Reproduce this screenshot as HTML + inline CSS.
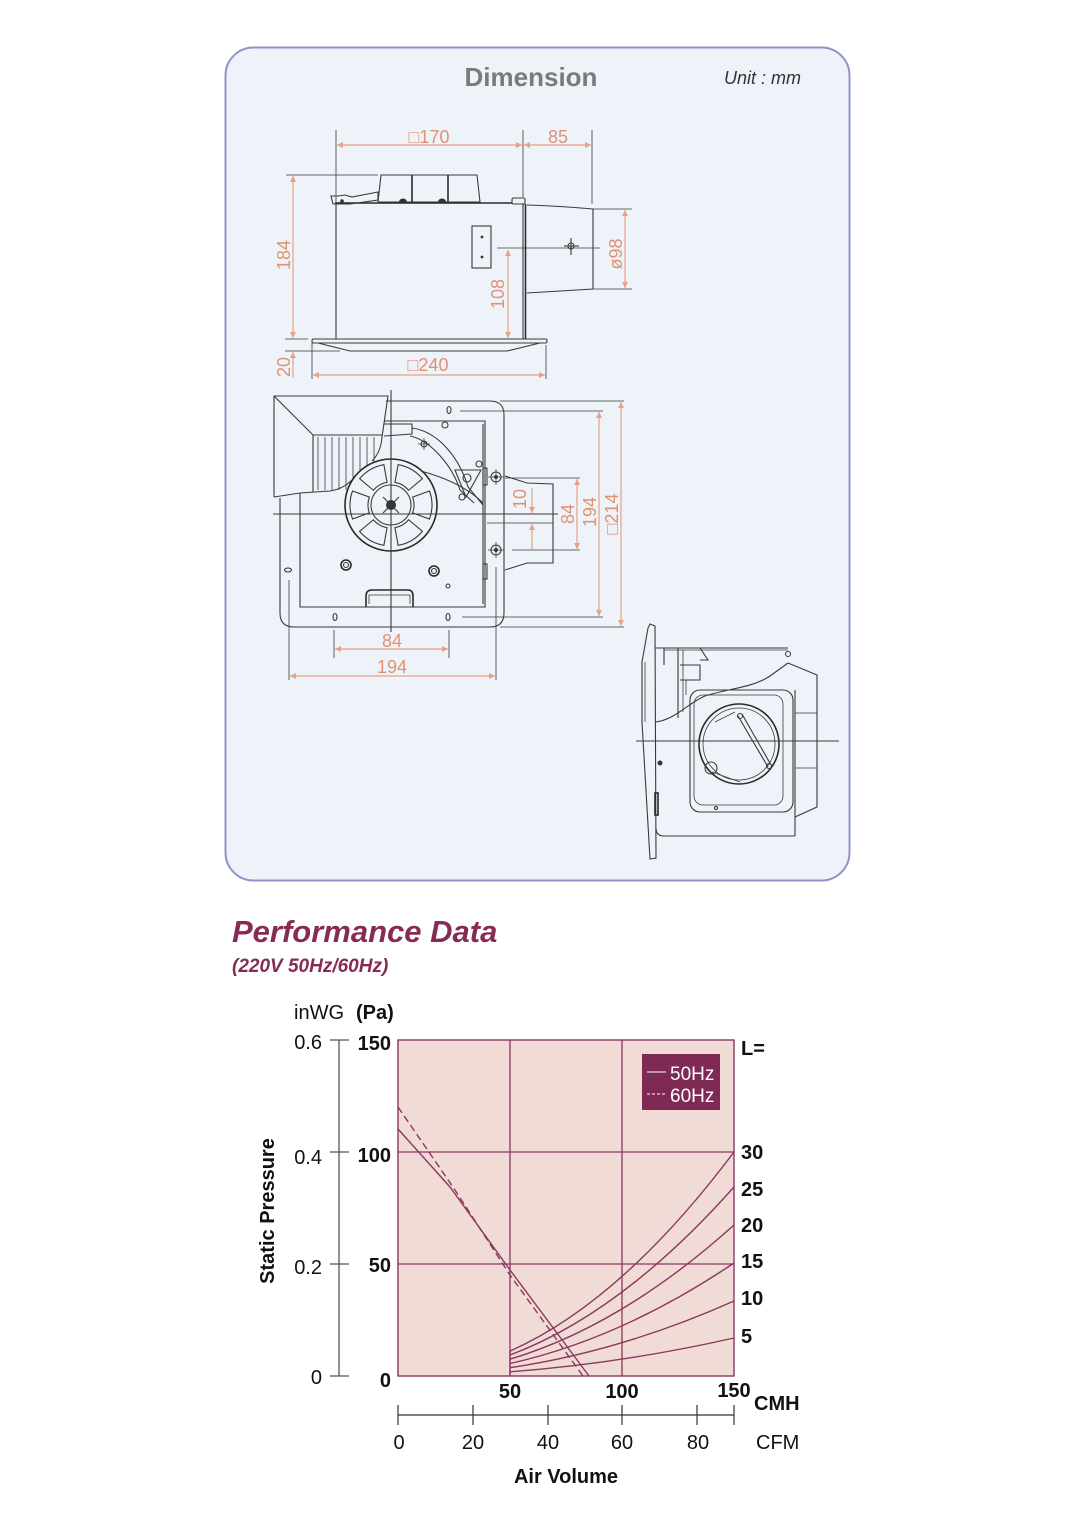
<!DOCTYPE html>
<html>
<head>
<meta charset="utf-8">
<style>
  html,body{margin:0;padding:0;background:#ffffff;}
  body{width:1080px;height:1528px;overflow:hidden;}
  svg{display:block;}
  .d{fill:none;stroke:#3a3a3a;stroke-width:1.1;}
  .t{fill:none;stroke:#3a3a3a;stroke-width:0.8;}
  .k{fill:none;stroke:#2a2a2a;stroke-width:1.6;}
  .dim{fill:none;stroke:#e6a286;stroke-width:1.2;marker-start:url(#ar);marker-end:url(#ar);}
  .dimt{font-family:"Liberation Sans","DejaVu Sans",sans-serif;font-size:18px;fill:#df9272;}
  .g{fill:none;stroke:#8b3760;stroke-width:1.3;}
  .c{fill:none;stroke:#8b3760;stroke-width:1.4;}
  .lab{font-family:"Liberation Sans",sans-serif;font-size:20px;fill:#111;}
  .b{font-weight:bold;}
</style>
</head>
<body>
<svg width="1080" height="1528" viewBox="0 0 1080 1528" xmlns="http://www.w3.org/2000/svg">
  <defs>
    <marker id="ar" viewBox="0 0 10 10" refX="10" refY="5" markerWidth="7" markerHeight="6" orient="auto-start-reverse" markerUnits="userSpaceOnUse">
      <path d="M0,0 L10,5 L0,10 Z" fill="#e6a286"/>
    </marker>
  </defs>

  <!-- Dimension box -->
  <rect x="225.5" y="47.5" width="624" height="833" rx="28" ry="28" fill="#eef3fa" stroke="#8f93c9" stroke-width="2"/>
  <text x="531" y="86" text-anchor="middle" font-family="Liberation Sans, sans-serif" font-size="26" font-weight="bold" fill="#7a7a7a">Dimension</text>
  <text x="724" y="84" font-family="Liberation Sans, sans-serif" font-size="18" font-style="italic" fill="#333">Unit : mm</text>

  <!-- ================= TOP DRAWING ================= -->
  <!-- extension lines -->
  <line class="t" x1="336" y1="130" x2="336" y2="204"/>
  <line class="t" x1="523" y1="130" x2="523" y2="197"/>
  <line class="t" x1="592" y1="130" x2="592" y2="204"/>
  <line class="t" x1="286" y1="175" x2="378" y2="175"/>
  <line class="t" x1="285" y1="339" x2="308" y2="339"/>
  <line class="t" x1="285" y1="351" x2="340" y2="351"/>
  <line class="t" x1="312" y1="343" x2="312" y2="379"/>
  <line class="t" x1="546" y1="345" x2="546" y2="379"/>
  <line class="t" x1="593" y1="209" x2="632" y2="209"/>
  <line class="t" x1="593" y1="289" x2="632" y2="289"/>
  <line class="t" x1="497" y1="248" x2="600" y2="248"/>
  <!-- dims -->
  <line class="dim" x1="337" y1="145" x2="522" y2="145"/>
  <line class="dim" x1="524" y1="145" x2="591" y2="145"/>
  <line class="dim" x1="293" y1="176" x2="293" y2="338"/>
  <line class="dim" x1="293" y1="378" x2="293" y2="352" style="marker-start:none"/>
  <line class="dim" x1="313" y1="375" x2="545" y2="375"/>
  <line class="dim" x1="625" y1="210" x2="625" y2="288"/>
  <line class="dim" x1="508" y1="250" x2="508" y2="338"/>
  <text class="dimt" x="429" y="143" text-anchor="middle">□170</text>
  <text class="dimt" x="558" y="143" text-anchor="middle">85</text>
  <text class="dimt" transform="translate(284,255) rotate(-90)" text-anchor="middle" dominant-baseline="central">184</text>
  <text class="dimt" transform="translate(284,367) rotate(-90)" text-anchor="middle" dominant-baseline="central">20</text>
  <text class="dimt" x="428" y="371" text-anchor="middle">□240</text>
  <text class="dimt" transform="translate(616,254) rotate(-90)" text-anchor="middle" dominant-baseline="central">ø98</text>
  <text class="dimt" transform="translate(498,294) rotate(-90)" text-anchor="middle" dominant-baseline="central">108</text>
  <!-- motor housing -->
  <path class="d" d="M381,175 L477,175 L480,202 L378,202 Z"/>
  <line class="k" x1="412" y1="175" x2="412" y2="202"/>
  <line class="k" x1="448" y1="175" x2="448" y2="202"/>
  <line class="k" x1="335" y1="203" x2="512" y2="203"/>
  <path d="M399,202 A4,3.5 0 0 1 407,202 Z" fill="#333"/>
  <path d="M438,202 A4,3.5 0 0 1 446,202 Z" fill="#333"/>
  <!-- left bracket -->
  <path class="d" d="M331,196 L333,204 L350,204 L378,200 L378,192 L352,197 L345,195 L338,196 Z"/>
  <circle cx="342" cy="201" r="1.8" fill="#333"/>
  <!-- body -->
  <path class="d" d="M336,204 L336,339 L523,339 L523,204"/>
  <line class="k" x1="525.5" y1="204" x2="525.5" y2="339"/>
  <rect class="d" x="512" y="198" width="13" height="6" rx="1.5"/>
  <!-- bottom plate -->
  <rect class="d" x="312" y="339" width="235" height="4" rx="1.5"/>
  <path class="d" d="M318,343 L350,351 L507,351 L540,343"/>
  <!-- duct -->
  <path class="d" d="M527,205 Q560,206 593,209 L593,289 Q560,291 527,293"/>
  <!-- crosshair -->
  <circle class="d" cx="571" cy="246" r="3"/>
  <line class="d" x1="564" y1="246" x2="579" y2="246"/>
  <line class="d" x1="571" y1="238" x2="571" y2="255"/>
  <!-- junction box -->
  <rect class="d" x="472" y="226" width="19" height="42"/>
  <circle cx="482" cy="237" r="1.4" fill="#333"/>
  <circle cx="482" cy="257" r="1.4" fill="#333"/>

  <!-- ================= MIDDLE DRAWING ================= -->
  <!-- outer frame -->
  <path class="d" d="M386,401 L490,401 Q504,401 504,415 L504,613 Q504,627 490,627 L294,627 Q280,627 280,613 L280,498"/>
  <!-- casing -->
  <path class="d" d="M300,493 L300,607 L485,607 L485,421 L384,421"/>
  <line class="d" x1="483" y1="424" x2="483" y2="604"/>
  <path class="d" d="M384,424 L412,424 L412,434 L384,436"/>
  <!-- louver slats -->
  <g class="t">
    <line x1="318" y1="437" x2="318" y2="490"/>
    <line x1="325" y1="437" x2="325" y2="490"/>
    <line x1="332" y1="437" x2="332" y2="490"/>
    <line x1="339" y1="437" x2="339" y2="490"/>
    <line x1="346" y1="437" x2="346" y2="490"/>
    <line x1="353" y1="437" x2="353" y2="490"/>
    <line x1="360" y1="437" x2="360" y2="490"/>
    <line x1="367" y1="437" x2="367" y2="490"/>
    <line x1="374" y1="437" x2="374" y2="490"/>
  </g>
  <!-- hood -->
  <path class="d" d="M274,497 L274,396 L388,396 L382,437"/>
  <path class="d" d="M274,396 L313,435 L382,435"/>
  <line class="d" x1="313" y1="435" x2="313" y2="492"/>
  <path class="d" d="M274,497 L300,493 L330,491 Q343,489 352,480"/>
  <path class="d" d="M382,437 Q381,452 372,461"/>
  <!-- scroll -->
  <path class="d" d="M412,428 C440,432 460,460 468,487 L483,505"/>
  <path class="d" d="M410,436 C430,440 452,465 460,490 L474,503"/>
  <path class="d" d="M378,463 C420,468 460,480 483,503"/>
  <path class="d" d="M455,470 L481,470 L466,497 Z"/>
  <circle class="d" cx="467" cy="478" r="4"/>
  <circle class="d" cx="445" cy="425" r="3"/>
  <circle class="d" cx="479" cy="464" r="3"/>
  <circle class="d" cx="462" cy="497" r="3"/>
  <circle class="d" cx="424" cy="444" r="3"/>
  <path class="t" d="M418,444 L430,444 M424,438 L424,450"/>
  <!-- fan -->
  <circle cx="391" cy="505" r="46" fill="#eef3fa" stroke="#2a2a2a" stroke-width="1.6"/>
  <circle class="d" cx="391" cy="505" r="20"/>
  <g class="d">
    <path d="M412.6,497.1 L429.5,491.0 A41,41 0 0 1 429.5,519.0 L412.6,512.9 A23,23 0 0 0 412.6,497.1 Z"/>
    <path transform="rotate(60 391 505)" d="M412.6,497.1 L429.5,491.0 A41,41 0 0 1 429.5,519.0 L412.6,512.9 A23,23 0 0 0 412.6,497.1 Z"/>
    <path transform="rotate(120 391 505)" d="M412.6,497.1 L429.5,491.0 A41,41 0 0 1 429.5,519.0 L412.6,512.9 A23,23 0 0 0 412.6,497.1 Z"/>
    <path transform="rotate(180 391 505)" d="M412.6,497.1 L429.5,491.0 A41,41 0 0 1 429.5,519.0 L412.6,512.9 A23,23 0 0 0 412.6,497.1 Z"/>
    <path transform="rotate(240 391 505)" d="M412.6,497.1 L429.5,491.0 A41,41 0 0 1 429.5,519.0 L412.6,512.9 A23,23 0 0 0 412.6,497.1 Z"/>
    <path transform="rotate(300 391 505)" d="M412.6,497.1 L429.5,491.0 A41,41 0 0 1 429.5,519.0 L412.6,512.9 A23,23 0 0 0 412.6,497.1 Z"/>
  </g>
  <circle cx="391" cy="505" r="5" fill="#333"/>
  <path class="d" d="M383,497 L399,513 M399,497 L383,513"/>
  <!-- center lines -->
  <line class="d" x1="391" y1="390" x2="391" y2="632"/>
  <line class="d" x1="273" y1="514" x2="558" y2="514"/>
  <!-- duct right -->
  <path class="d" d="M505,476 L527,483 L553,484 L553,563 L527,563 L505,570"/>
  <rect class="d" x="483" y="468" width="4" height="17"/>
  <rect class="d" x="483" y="564" width="4" height="15"/>
  <!-- mounting holes -->
  <circle class="d" cx="496" cy="477" r="5"/>
  <circle cx="496" cy="477" r="2" fill="#333"/>
  <path class="t" d="M488,477 L504,477 M496,469 L496,485"/>
  <circle class="d" cx="496" cy="550" r="5"/>
  <circle cx="496" cy="550" r="2" fill="#333"/>
  <path class="t" d="M488,550 L504,550 M496,542 L496,558"/>
  <!-- slots -->
  <ellipse class="d" cx="449" cy="410" rx="2" ry="3.5"/>
  <ellipse class="d" cx="335" cy="617" rx="2" ry="3.5"/>
  <ellipse class="d" cx="448" cy="617" rx="2" ry="3.5"/>
  <ellipse class="d" cx="288" cy="570" rx="3.5" ry="2"/>
  <!-- screws -->
  <circle class="k" cx="346" cy="565" r="5"/>
  <circle class="d" cx="346" cy="565" r="2.5"/>
  <circle class="k" cx="434" cy="571" r="5"/>
  <circle class="d" cx="434" cy="571" r="2.5"/>
  <circle class="d" cx="448" cy="586" r="2"/>
  <!-- handle -->
  <path class="k" d="M366,607 L366,596 Q366,590 372,590 L408,590 Q413,590 413,596 L413,607"/>
  <path class="t" d="M369,604 L369,595 L410,595 L410,604"/>
  <!-- ext lines middle -->
  <line class="t" x1="500" y1="401" x2="624" y2="401"/>
  <line class="t" x1="460" y1="411" x2="603" y2="411"/>
  <line class="t" x1="462" y1="617" x2="603" y2="617"/>
  <line class="t" x1="500" y1="627" x2="624" y2="627"/>
  <line class="t" x1="505" y1="478" x2="580" y2="478"/>
  <line class="t" x1="512" y1="550" x2="580" y2="550"/>
  <line class="t" x1="487" y1="523" x2="553" y2="523"/>
  <line class="t" x1="334" y1="630" x2="334" y2="658"/>
  <line class="t" x1="449" y1="630" x2="449" y2="658"/>
  <line class="t" x1="289" y1="580" x2="289" y2="680"/>
  <line class="t" x1="496" y1="567" x2="496" y2="680"/>
  <!-- dims middle -->
  <line class="dim" x1="532" y1="488" x2="532" y2="513" style="marker-start:none"/>
  <line class="dim" x1="532" y1="549" x2="532" y2="524" style="marker-start:none"/>
  <line class="dim" x1="577" y1="479" x2="577" y2="549"/>
  <line class="dim" x1="599" y1="412" x2="599" y2="616"/>
  <line class="dim" x1="621" y1="402" x2="621" y2="626"/>
  <line class="dim" x1="335" y1="649" x2="448" y2="649"/>
  <line class="dim" x1="290" y1="676" x2="495" y2="676"/>
  <text class="dimt" transform="translate(520,499) rotate(-90)" text-anchor="middle" dominant-baseline="central">10</text>
  <text class="dimt" transform="translate(568,514) rotate(-90)" text-anchor="middle" dominant-baseline="central">84</text>
  <text class="dimt" transform="translate(590,512) rotate(-90)" text-anchor="middle" dominant-baseline="central">194</text>
  <text class="dimt" transform="translate(612,514) rotate(-90)" text-anchor="middle" dominant-baseline="central">□214</text>
  <text class="dimt" x="392" y="647" text-anchor="middle">84</text>
  <text class="dimt" x="392" y="673" text-anchor="middle">194</text>

  <!-- ================= SIDE DRAWING ================= -->
  <path class="d" d="M650,624 L655,626 L656,858 L650,859 L642,722 L642,662 L648,628 Z"/>
  <line class="t" x1="645" y1="662" x2="645" y2="722"/>
  <line class="d" x1="655" y1="648" x2="788" y2="648"/>
  <line class="t" x1="664" y1="650" x2="788" y2="650"/>
  <line class="d" x1="664" y1="648" x2="664" y2="665"/>
  <line class="d" x1="678" y1="648" x2="678" y2="718"/>
  <line class="t" x1="683" y1="650" x2="683" y2="712"/>
  <path class="d" d="M680,665 L700,665 L700,680 L680,680"/>
  <line class="t" x1="686" y1="680" x2="686" y2="695"/>
  <path class="d" d="M700,648 L708,660 L700,660"/>
  <circle class="d" cx="788" cy="654" r="2.5"/>
  <path class="d" d="M788,663 L817,675 L817,807 L795,817"/>
  <line class="t" x1="795" y1="713" x2="817" y2="713"/>
  <line class="t" x1="795" y1="768" x2="817" y2="768"/>
  <line class="d" x1="795" y1="690" x2="795" y2="836"/>
  <path class="d" d="M656,828 Q656,836 664,836 L795,836"/>
  <path class="d" d="M655,722 C675,720 688,703 705,696 C730,688 752,688 770,676 L788,663"/>
  <rect class="d" x="690" y="690" width="103" height="122" rx="10"/>
  <rect class="t" x="694" y="695" width="89" height="110" rx="9"/>
  <circle class="k" cx="739" cy="744" r="40"/>
  <circle class="t" cx="739" cy="744" r="36"/>
  <path class="d" d="M738,716 L768,767 M742,714 L771,765"/>
  <circle class="d" cx="740" cy="716" r="2.5"/>
  <circle class="d" cx="769" cy="766" r="2.5"/>
  <path class="t" d="M715,722 L735,712 M712,772 L740,782"/>
  <circle class="d" cx="711" cy="768" r="6"/>
  <circle cx="660" cy="763" r="2.5" fill="#333"/>
  <circle class="d" cx="716" cy="808" r="1.5"/>
  <rect class="k" x="655" y="793" width="3" height="22"/>
  <line class="d" x1="636" y1="741" x2="839" y2="741"/>

  <!-- ================= PERFORMANCE DATA ================= -->
  <text x="232" y="942" font-family="Liberation Sans, sans-serif" font-size="31" font-weight="bold" font-style="italic" fill="#872b55">Performance Data</text>
  <text x="232" y="972" font-family="Liberation Sans, sans-serif" font-size="19" font-weight="bold" font-style="italic" fill="#872b55">(220V 50Hz/60Hz)</text>

  <!-- chart area -->
  <rect x="398" y="1040" width="336" height="336" fill="#f0dbd6" stroke="#8b3760" stroke-width="1.4"/>
  <line class="g" x1="510" y1="1040" x2="510" y2="1376"/>
  <line class="g" x1="622" y1="1040" x2="622" y2="1376"/>
  <line class="g" x1="398" y1="1152" x2="734" y2="1152"/>
  <line class="g" x1="398" y1="1264" x2="734" y2="1264"/>

  <!-- fan curves -->
  <polyline class="c" points="398,1129 450,1187 510,1270 589,1376"/>
  <polyline class="c" points="398,1107 455,1190 510,1275 583,1376" stroke-dasharray="7,4"/>

  <!-- system curves -->
  <path class="c" d="M510,1351.1 Q622,1301.3 734,1152"/>
  <path class="c" d="M510,1355 Q622,1313 734,1187"/>
  <path class="c" d="M510,1359.2 Q622,1325.7 734,1225"/>
  <path class="c" d="M510,1363.5 Q622,1338.4 734,1263"/>
  <path class="c" d="M510,1367.7 Q622,1351 734,1301"/>
  <path class="c" d="M510,1371.8 Q622,1363.3 734,1338"/>
  <line class="c" x1="510" y1="1351" x2="510" y2="1376"/>

  <!-- legend -->
  <rect x="642" y="1054" width="78" height="56" fill="#7e2a55"/>
  <line x1="647" y1="1072" x2="666" y2="1072" stroke="#fff" stroke-width="1"/>
  <line x1="647" y1="1094" x2="666" y2="1094" stroke="#fff" stroke-width="1" stroke-dasharray="3,2"/>
  <text x="670" y="1080" font-family="Liberation Sans, sans-serif" font-size="19" fill="#fff">50Hz</text>
  <text x="670" y="1102" font-family="Liberation Sans, sans-serif" font-size="19" fill="#fff">60Hz</text>

  <!-- left axis -->
  <line x1="339" y1="1040" x2="339" y2="1376" stroke="#555" stroke-width="1.3"/>
  <g stroke="#555" stroke-width="1.3">
    <line x1="330" y1="1040" x2="349" y2="1040"/>
    <line x1="330" y1="1152" x2="349" y2="1152"/>
    <line x1="330" y1="1264" x2="349" y2="1264"/>
    <line x1="330" y1="1376" x2="349" y2="1376"/>
  </g>
  <text class="lab" x="294" y="1019">inWG</text>
  <text class="lab b" x="356" y="1019">(Pa)</text>
  <g class="lab" text-anchor="end">
    <text x="322" y="1049">0.6</text>
    <text x="322" y="1164">0.4</text>
    <text x="322" y="1274">0.2</text>
    <text x="322" y="1384">0</text>
  </g>
  <g class="lab b" text-anchor="end">
    <text x="391" y="1050">150</text>
    <text x="391" y="1162">100</text>
    <text x="391" y="1272">50</text>
    <text x="391" y="1387">0</text>
  </g>
  <text class="lab b" transform="translate(268,1211) rotate(-90)" text-anchor="middle" dominant-baseline="central" font-size="21">Static Pressure</text>

  <!-- right labels -->
  <g class="lab b">
    <text x="741" y="1055">L=</text>
    <text x="741" y="1159">30</text>
    <text x="741" y="1196">25</text>
    <text x="741" y="1232">20</text>
    <text x="741" y="1268">15</text>
    <text x="741" y="1305">10</text>
    <text x="741" y="1343">5</text>
  </g>

  <!-- x axis CMH labels -->
  <g class="lab b" text-anchor="middle">
    <text x="510" y="1398">50</text>
    <text x="622" y="1398">100</text>
    <text x="734" y="1397">150</text>
  </g>
  <text class="lab b" x="754" y="1410" font-size="21">CMH</text>

  <!-- CFM axis -->
  <g stroke="#333" stroke-width="1.2">
    <line x1="398" y1="1415" x2="734" y2="1415"/>
    <line x1="398" y1="1405" x2="398" y2="1425"/>
    <line x1="473" y1="1405" x2="473" y2="1425"/>
    <line x1="548" y1="1405" x2="548" y2="1425"/>
    <line x1="622" y1="1405" x2="622" y2="1425"/>
    <line x1="697" y1="1405" x2="697" y2="1425"/>
    <line x1="734" y1="1405" x2="734" y2="1425"/>
  </g>
  <g class="lab" text-anchor="middle">
    <text x="399" y="1449">0</text>
    <text x="473" y="1449">20</text>
    <text x="548" y="1449">40</text>
    <text x="622" y="1449">60</text>
    <text x="698" y="1449">80</text>
  </g>
  <text class="lab" x="756" y="1449" font-size="21">CFM</text>
  <text class="lab b" x="566" y="1483" text-anchor="middle">Air Volume</text>
</svg>
</body>
</html>
